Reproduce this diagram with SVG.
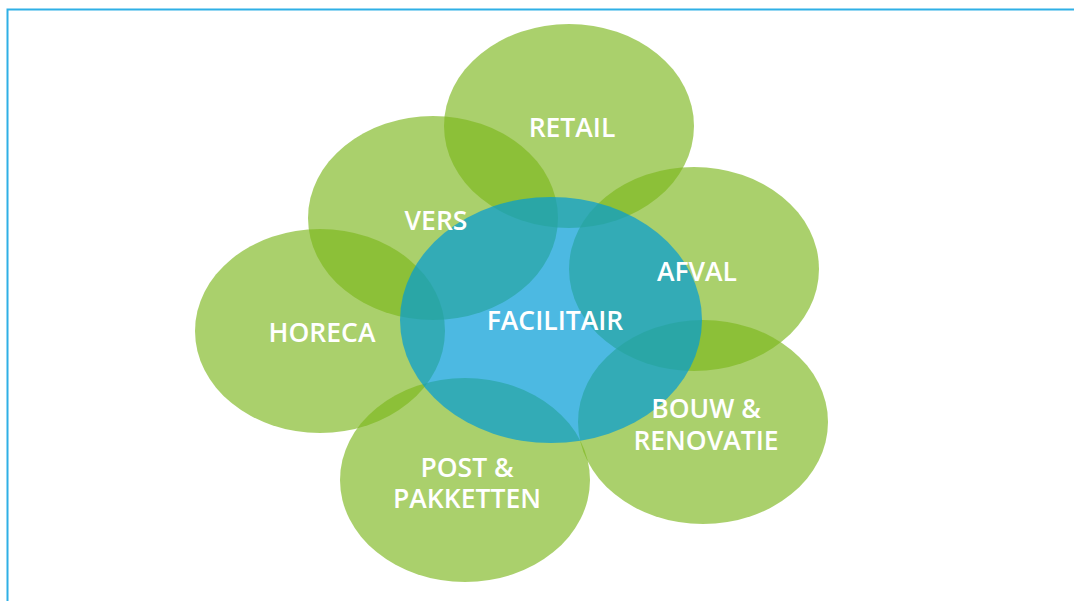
<svg xmlns="http://www.w3.org/2000/svg" width="1074" height="601" viewBox="0 0 1074 601">
  <style>
    .frame { fill: none; stroke: #2fb0e6; stroke-width: 2; }
    .sector { fill: #7cb71d; fill-opacity: 0.65; }
    .core { fill: #009bd5; fill-opacity: 0.7; }
    .label { font-family: "Open Sans", "Liberation Sans", sans-serif; font-weight: 600; font-size: 26.5px; fill: #ffffff; text-anchor: middle; }
  </style>
  <rect width="1074" height="601" fill="#ffffff"/>
  <path class="frame" d="M7.5,601 V9.5 H1074"/>

  <!-- outer sectors -->
  <g id="retail"><ellipse class="sector" cx="569" cy="126" rx="125" ry="102"/></g>
  <g id="vers"><ellipse class="sector" cx="433" cy="218" rx="125" ry="102"/></g>
  <g id="horeca"><ellipse class="sector" cx="320" cy="331" rx="125" ry="102"/></g>
  <g id="afval"><ellipse class="sector" cx="694" cy="269" rx="125" ry="102"/></g>
  <g id="bouw"><ellipse class="sector" cx="703" cy="422" rx="125" ry="102"/></g>
  <g id="post"><ellipse class="sector" cx="465" cy="480" rx="125" ry="102"/></g>
  <!-- central core, laid over the sectors -->
  <g id="facilitair"><ellipse class="core" cx="551" cy="320" rx="151" ry="123"/></g>

  <g id="labels">
    <text class="label" x="572" y="137">RETAIL</text>
    <text class="label" x="436" y="230">VERS</text>
    <text class="label" x="322" y="342">HORECA</text>
    <text class="label" x="697" y="281">AFVAL</text>
    <text class="label" x="555" y="330">FACILITAIR</text>
    <text class="label" x="706" y="418">BOUW &amp;</text>
    <text class="label" x="706" y="450">RENOVATIE</text>
    <text class="label" x="467" y="477">POST &amp;</text>
    <text class="label" x="467" y="508">PAKKETTEN</text>
  </g>
</svg>
